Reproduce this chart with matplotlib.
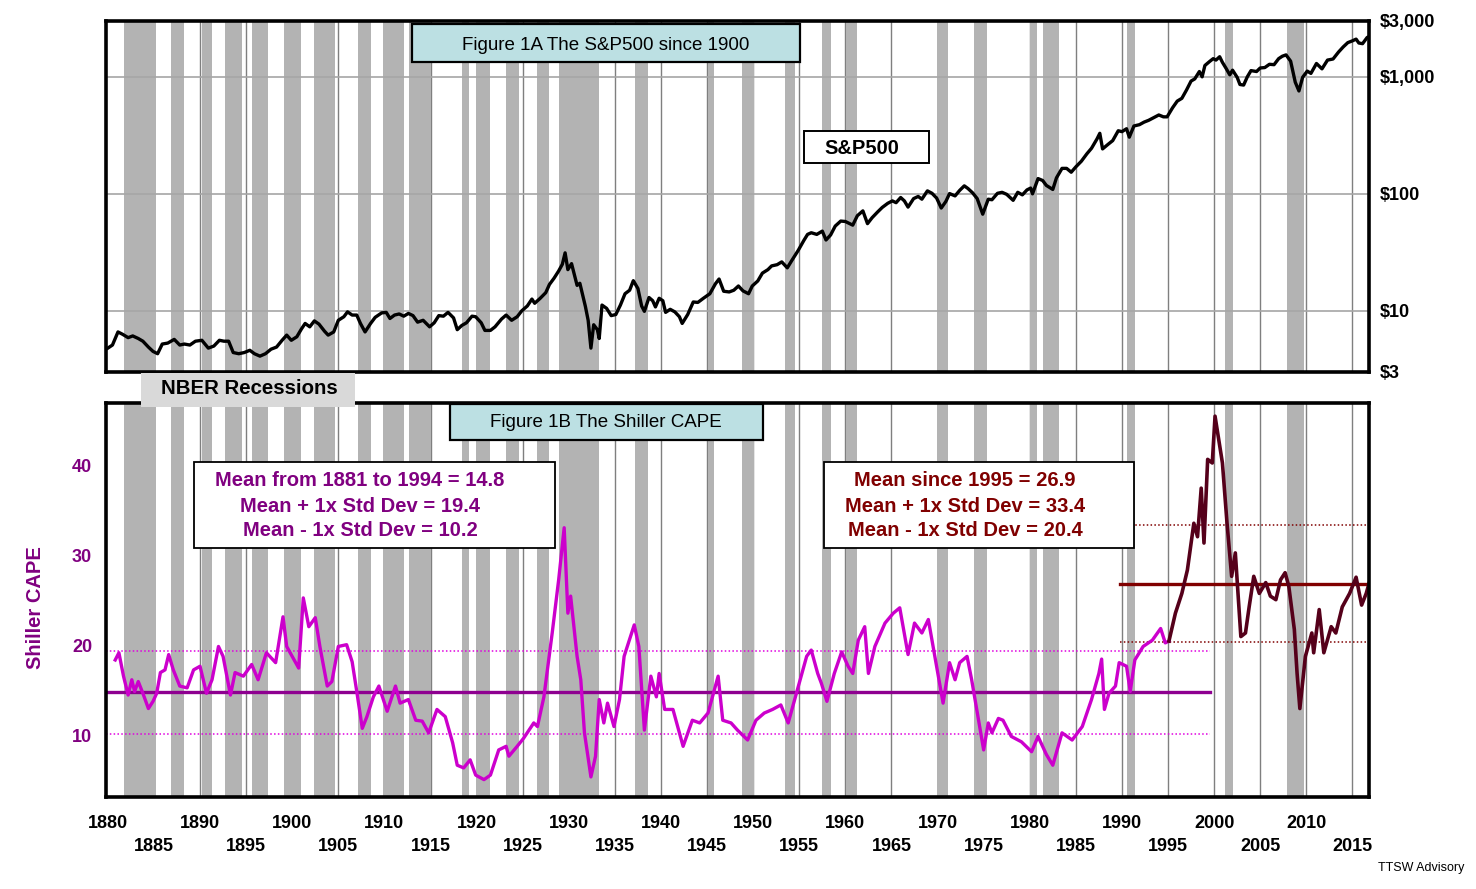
import matplotlib
matplotlib.use('Agg')
import matplotlib.pyplot as plt
from matplotlib.patches import Rectangle

plt.rcParams['font.family'] = ['Liberation Sans', 'DejaVu Sans']

# NBER recessions (start, end) in years
rec_start = [1881.8, 1886.9, 1890.2, 1892.7, 1895.6, 1899.1, 1902.4, 1907.1, 1909.8, 1912.7,
             1918.4, 1919.9, 1923.2, 1926.5, 1928.9, 1937.2, 1945.1, 1948.8, 1953.4, 1957.5,
             1960.1, 1969.9, 1973.9, 1980.0, 1981.4, 1990.5, 2001.2, 2007.9]
rec_end = [1885.2, 1888.3, 1891.3, 1894.5, 1897.4, 1900.9, 1904.6, 1908.5, 1912.1, 1915.0,
           1919.2, 1921.5, 1924.6, 1927.8, 1933.3, 1938.6, 1945.8, 1950.1, 1954.5, 1958.4,
           1961.3, 1971.1, 1975.4, 1980.8, 1983.2, 1991.4, 2002.1, 2009.75]

# S&P500 price
sp_years = [1880.0, 1880.5, 1881.1, 1881.6, 1882.2, 1882.7, 1883.3, 1883.8, 1884.4, 1884.9,
            1885.4, 1885.9, 1886.5, 1887.2, 1887.8, 1888.3, 1888.9, 1889.5, 1890.2, 1890.9,
            1891.5, 1892.1, 1892.6, 1893.1, 1893.6, 1894.2, 1894.8, 1895.4, 1895.9, 1896.5,
            1897.1, 1897.7, 1898.3, 1898.9, 1899.4, 1899.9, 1900.5, 1901.0, 1901.4, 1901.9,
            1902.4, 1902.9, 1903.5, 1903.9, 1904.5, 1905.0, 1905.6, 1906.0, 1906.5, 1907.0,
            1907.4, 1907.9, 1908.5, 1909.0, 1909.7, 1910.2, 1910.6, 1911.1, 1911.6, 1912.1,
            1912.6, 1913.1, 1913.6, 1914.2, 1914.9, 1915.4, 1915.9, 1916.4, 1916.9, 1917.5,
            1917.9, 1918.4, 1918.9, 1919.5, 1919.9, 1920.5, 1920.9, 1921.5, 1922.0, 1922.7,
            1923.2, 1923.8, 1924.4, 1924.9, 1925.5, 1926.0, 1926.3, 1926.9, 1927.5, 1927.9,
            1928.4, 1928.9, 1929.3, 1929.6, 1929.9, 1930.3, 1930.9, 1931.2, 1931.8, 1932.1,
            1932.4, 1932.7, 1933.1, 1933.3, 1933.6, 1934.1, 1934.6, 1935.1, 1935.6, 1936.1,
            1936.6, 1937.0, 1937.5, 1937.9, 1938.2, 1938.7, 1939.1, 1939.4, 1939.8, 1940.2,
            1940.5, 1941.0, 1941.5, 1942.0, 1942.3, 1942.9, 1943.5, 1944.0, 1944.6, 1945.3,
            1945.9, 1946.3, 1946.8, 1947.4, 1947.9, 1948.4, 1948.9, 1949.5, 1949.9, 1950.5,
            1951.0, 1951.6, 1952.0, 1952.6, 1953.1, 1953.7, 1954.2, 1954.9, 1955.5, 1955.9,
            1956.3, 1956.9, 1957.5, 1957.9, 1958.4, 1958.9, 1959.5, 1960.0, 1960.8, 1961.3,
            1961.9, 1962.4, 1962.9, 1963.5, 1964.0, 1964.6, 1965.1, 1965.5, 1966.0, 1966.4,
            1966.8, 1967.4, 1967.9, 1968.3, 1968.9, 1969.4, 1969.9, 1970.4, 1970.9, 1971.3,
            1971.9, 1972.4, 1972.9, 1973.3, 1973.8, 1974.3, 1974.9, 1975.5, 1975.9, 1976.5,
            1977.0, 1977.5, 1978.2, 1978.7, 1979.2, 1979.7, 1980.1, 1980.3, 1980.9, 1981.4,
            1981.8, 1982.5, 1982.9, 1983.5, 1984.0, 1984.5, 1985.0, 1985.6, 1986.2, 1986.7,
            1987.3, 1987.6, 1987.9, 1988.5, 1989.0, 1989.6, 1990.0, 1990.5, 1990.8, 1991.3,
            1991.9, 1992.4, 1992.9, 1993.5, 1994.0, 1994.5, 1994.9, 1995.5, 1996.0, 1996.5,
            1997.0, 1997.5, 1997.9, 1998.4, 1998.7, 1999.0, 1999.5, 1999.9, 2000.2, 2000.6,
            2000.9, 2001.3, 2001.7, 2002.0, 2002.5, 2002.8, 2003.2, 2003.6, 2004.0, 2004.6,
            2005.0, 2005.5, 2006.0, 2006.5, 2007.0, 2007.4, 2007.8, 2008.3, 2008.8, 2009.2,
            2009.6, 2010.1, 2010.5, 2011.1, 2011.7, 2012.3, 2012.9, 2013.5, 2014.0, 2014.5,
            2015.0, 2015.4, 2015.7, 2016.1, 2016.6, 2016.8]
sp_price = [4.8, 5.1, 6.6, 6.3, 5.9, 6.1, 5.8, 5.5, 4.9, 4.5,
            4.3, 5.2, 5.3, 5.7, 5.1, 5.2, 5.1, 5.5, 5.6, 4.8,
            5.0, 5.6, 5.5, 5.5, 4.4, 4.3, 4.4, 4.6, 4.3, 4.1,
            4.3, 4.7, 4.9, 5.6, 6.2, 5.6, 6.0, 7.0, 7.8, 7.3,
            8.2, 7.7, 6.7, 6.2, 6.6, 8.3, 8.9, 9.8, 9.2, 9.2,
            7.8, 6.6, 7.8, 8.8, 9.6, 9.7, 8.6, 9.2, 9.4, 9.0,
            9.5, 9.1, 8.0, 8.3, 7.3, 7.9, 9.1, 9.0, 9.7, 8.7,
            6.9, 7.5, 7.9, 9.0, 8.9, 7.9, 6.8, 6.8, 7.3, 8.5,
            9.2, 8.3, 8.9, 10.0, 11.0, 12.6, 11.6, 12.8, 14.3, 16.8,
            19.0, 21.9, 25.0, 31.3, 22.5, 25.3, 16.5, 17.2, 10.9, 8.3,
            4.8, 7.6, 6.9, 5.8, 11.2, 10.5, 9.1, 9.3, 11.2, 14.0,
            15.0, 18.1, 15.5, 11.0, 9.9, 13.0, 12.2, 10.8, 12.8, 12.2,
            9.7, 10.3, 9.8, 8.9, 7.8, 9.3, 11.9, 11.8, 12.8, 14.0,
            17.0, 18.7, 14.7, 14.5, 15.0, 16.3, 14.8, 14.0, 16.3, 18.0,
            21.0, 22.5, 24.2, 24.8, 26.2, 23.3, 27.0, 33.0, 40.0, 45.0,
            46.5, 45.0, 48.0, 40.3, 44.5, 53.0, 58.5, 58.0, 54.0, 65.0,
            71.5, 55.6, 62.5, 70.0, 76.5, 83.0, 87.0, 84.0, 93.0, 87.0,
            77.0, 91.0, 95.0, 90.0, 106.0, 101.0, 92.0, 75.6, 86.0, 100.5,
            96.0, 107.0, 117.0, 111.0, 102.0, 91.0, 67.0, 90.0, 89.0, 101.0,
            103.0, 99.0, 88.0, 103.0, 98.0, 108.0, 112.0, 100.0, 135.0, 130.0,
            118.0, 109.0, 137.0, 165.0, 165.0, 153.0, 170.0, 190.0, 220.0, 245.0,
            295.0, 329.0, 242.0, 265.0, 285.0, 346.0, 340.0, 360.0, 305.0, 380.0,
            390.0, 410.0, 425.0, 450.0, 472.0, 455.0, 455.0, 545.0, 620.0, 655.0,
            770.0, 920.0, 960.0, 1110.0, 1000.0, 1250.0, 1350.0, 1430.0, 1390.0, 1485.0,
            1330.0, 1180.0, 1040.0, 1140.0, 990.0, 860.0, 850.0, 1000.0, 1130.0, 1110.0,
            1190.0, 1200.0, 1280.0, 1270.0, 1430.0, 1500.0, 1540.0, 1360.0, 900.0, 757.0,
            990.0, 1120.0, 1070.0, 1300.0, 1170.0, 1390.0, 1420.0, 1630.0, 1800.0, 1960.0,
            2030.0, 2100.0, 1945.0, 1920.0, 2170.0, 2200.0]

# Shiller CAPE, 1881-1995
cape_early_years = [1880.8, 1881.2, 1881.7, 1882.2, 1882.6, 1882.9, 1883.3, 1883.8, 1884.4, 1884.9,
                    1885.3, 1885.7, 1886.2, 1886.6, 1887.1, 1887.8, 1888.6, 1889.3, 1890.0, 1890.7,
                    1891.3, 1892.0, 1892.5, 1893.3, 1893.8, 1894.7, 1895.6, 1896.3, 1897.2, 1898.2,
                    1899.0, 1899.4, 1900.0, 1900.7, 1901.2, 1901.8, 1902.5, 1903.0, 1903.8, 1904.3,
                    1905.0, 1905.9, 1906.5, 1907.0, 1907.6, 1908.1, 1908.8, 1909.4, 1910.3, 1911.2,
                    1911.7, 1912.6, 1913.4, 1914.1, 1914.8, 1915.7, 1916.6, 1917.4, 1917.9, 1918.6,
                    1919.3, 1919.9, 1920.8, 1921.5, 1922.4, 1923.2, 1923.5, 1924.4, 1925.1, 1926.2,
                    1926.6, 1927.3, 1928.2, 1928.9, 1929.5, 1929.9, 1930.2, 1930.9, 1931.3, 1931.7,
                    1932.4, 1932.9, 1933.3, 1933.8, 1934.2, 1934.9, 1935.5, 1936.0, 1937.1, 1937.6,
                    1938.0, 1938.2, 1938.9, 1939.5, 1939.8, 1940.4, 1941.3, 1942.4, 1943.4, 1944.2,
                    1945.1, 1946.2, 1946.7, 1947.6, 1948.3, 1949.4, 1950.3, 1951.2, 1952.1, 1953.0,
                    1953.8, 1954.5, 1955.2, 1955.8, 1956.3, 1957.0, 1957.4, 1958.0, 1958.8, 1959.6,
                    1960.3, 1960.8, 1961.4, 1962.1, 1962.5, 1963.2, 1964.3, 1965.2, 1965.9, 1966.8,
                    1967.5, 1968.3, 1969.0, 1969.7, 1970.6, 1971.3, 1971.9, 1972.4, 1973.2, 1973.7,
                    1974.2, 1975.0, 1975.5, 1975.9, 1976.6, 1977.1, 1978.0, 1979.1, 1980.2, 1980.9,
                    1981.8, 1982.5, 1983.5, 1984.6, 1985.7, 1986.7, 1987.5, 1987.8, 1988.1, 1988.6,
                    1989.3, 1989.7, 1990.5, 1990.9, 1991.4, 1992.3, 1993.3, 1994.2, 1994.7, 1995.1]
cape_early = [18.4, 19.2, 16.6, 14.5, 16.2, 14.9, 16.0, 14.7, 13.0, 13.8,
              14.7, 17.0, 17.3, 19.0, 17.3, 15.5, 15.3, 17.3, 17.7, 14.7,
              16.2, 19.9, 18.8, 14.5, 17.0, 16.6, 17.9, 16.2, 19.2, 18.1,
              23.2, 19.9, 18.8, 17.5, 25.3, 22.1, 23.1, 19.9, 15.5, 16.0,
              19.9, 20.1, 18.2, 14.9, 10.8, 12.1, 14.3, 15.5, 12.7, 15.5,
              13.6, 14.0, 11.7, 11.6, 10.3, 12.9, 12.1, 9.2, 6.7, 6.4,
              7.3, 5.6, 5.1, 5.6, 8.4, 8.8, 7.7, 8.8, 9.7, 11.4,
              11.0, 14.3, 21.4, 27.3, 33.1, 23.6, 25.5, 18.8, 16.2, 10.3,
              5.4, 7.7, 14.0, 11.4, 13.6, 11.0, 14.0, 18.8, 22.3, 19.9,
              13.6, 10.6, 16.6, 14.3, 16.9, 12.9, 12.9, 8.8, 11.7, 11.4,
              12.5, 16.6, 11.7, 11.4, 10.6, 9.5, 11.7, 12.5, 12.9, 13.4,
              11.4, 14.0, 16.6, 18.8, 19.5, 16.9, 15.8, 13.8, 16.9, 19.3,
              17.7, 16.9, 20.6, 22.1, 16.9, 19.9, 22.5, 23.6, 24.2, 19.0,
              22.5, 21.4, 22.9, 18.8, 13.6, 18.1, 16.2, 18.1, 18.8, 16.2,
              13.2, 8.4, 11.4, 10.3, 11.9, 11.7, 9.9, 9.3, 8.2, 9.9,
              7.9, 6.7, 10.3, 9.5, 11.0, 14.0, 16.9, 18.5, 12.9, 14.7,
              15.5, 18.1, 17.7, 14.9, 18.4, 19.9, 20.6, 21.9, 20.3, 20.5]

# Shiller CAPE, 1995 onward
cape_late_years = [1995.1, 1995.8, 1996.5, 1997.1, 1997.8, 1998.2, 1998.6, 1998.9, 1999.3, 1999.8,
                   2000.1, 2000.5, 2000.9, 2001.4, 2001.9, 2002.3, 2002.9, 2003.4, 2003.8, 2004.3,
                   2004.9, 2005.6, 2006.1, 2006.7, 2007.2, 2007.7, 2008.1, 2008.7, 2009.0, 2009.3,
                   2009.9, 2010.6, 2010.8, 2011.4, 2011.9, 2012.7, 2013.2, 2013.9, 2014.7, 2015.4,
                   2016.0, 2016.5, 2016.8]
cape_late = [20.5, 23.6, 25.8, 28.4, 33.6, 32.1, 37.5, 31.4, 40.7, 40.3,
             45.5, 42.9, 40.3, 33.6, 27.7, 30.3, 21.0, 21.4, 24.3, 27.7,
             25.8, 27.0, 25.5, 25.1, 27.3, 28.1, 26.6, 21.8, 16.9, 13.0,
             18.8, 21.4, 19.2, 24.0, 19.2, 22.1, 21.4, 24.3, 25.8, 27.6,
             24.5, 25.8, 26.9]

# summary statistics and the years each set of lines covers
mean_early, sd_hi_early, sd_lo_early = 14.8, 19.4, 10.2
mean_late, sd_hi_late, sd_lo_late = 26.9, 33.4, 20.4
span_early = (1879.8, 1999.5)
span_late = (1989.8, 2016.8)

x_ticks_top = list(range(1880, 2011, 10))
x_ticks_low = list(range(1885, 2016, 10))
grid_years = list(range(1885, 2016, 5))

W, H = 1476, 889
PURPLE = '#800080'
MAROON = '#800000'
BAR = '#B3B3B3'

fig = plt.figure(figsize=(W / 100, H / 100), dpi=100)


def fx(px):
    return px / W


def fy(py):
    return 1 - py / H


def box(x0, y0, x1, y1, fc, ec='black', lw=1.3):
    fig.add_artist(Rectangle((fx(x0), fy(y1)), fx(x1) - fx(x0), fy(y0) - fy(y1),
                             transform=fig.transFigure, facecolor=fc,
                             edgecolor=ec, linewidth=lw, zorder=5))


xlim = (1879.8, 2016.8)
ax1 = fig.add_axes([fx(106), fy(372), fx(1369) - fx(106), fy(21) - fy(372)])
ax2 = fig.add_axes([fx(106), fy(796.7), fx(1369) - fx(106), fy(402.7) - fy(796.7)])

for ax in (ax1, ax2):
    ax.set_xlim(*xlim)
    for g in grid_years:
        ax.axvline(g, color='#7F7F7F', lw=1.0, zorder=1)
    for s, e in zip(rec_start, rec_end):
        ax.axvspan(s, e, color=BAR, lw=0, zorder=1.5)
    for sp in ax.spines.values():
        sp.set_linewidth(2.6)
        sp.set_zorder(6)

# top panel
ax1.set_yscale('log')
ax1.set_ylim(3, 3000)
for lev in (10, 100, 1000):
    ax1.axhline(lev, color='#A6A6A6', lw=1.2, zorder=2)
ax1.plot(sp_years, sp_price, color='black', lw=2.4, zorder=3)
ax1.yaxis.tick_right()
ax1.set_yticks([3, 10, 100, 1000, 3000])
ax1.set_yticklabels(['$3', '$10', '$100', '$1,000', '$3,000'], fontsize=13, fontweight='bold')
ax1.minorticks_off()
ax1.set_xticks([])
ax1.tick_params(axis='y', length=0, pad=8)

# bottom panel
ax2.set_ylim(3.2, 47)
ax2.plot(span_early, [mean_early] * 2, color='#8E0090', lw=2.4, zorder=3)
ax2.plot(span_early, [sd_hi_early] * 2, color='#E000E0', lw=1.1, ls=(0, (1, 1.5)), zorder=3)
ax2.plot(span_early, [sd_lo_early] * 2, color='#E000E0', lw=1.1, ls=(0, (1, 1.5)), zorder=3)
ax2.plot(span_late, [mean_late] * 2, color=MAROON, lw=2.4, zorder=3)
ax2.plot(span_late, [sd_hi_late] * 2, color=MAROON, lw=1.1, ls=(0, (1, 1.5)), zorder=3)
ax2.plot(span_late, [sd_lo_late] * 2, color=MAROON, lw=1.1, ls=(0, (1, 1.5)), zorder=3)
ax2.plot(cape_early_years, cape_early, color='#CC00CC', lw=2.4, zorder=4)
ax2.plot(cape_late_years, cape_late, color='#55001A', lw=2.6, zorder=4)

ax2.set_yticks([10, 20, 30, 40])
ax2.set_yticklabels(['10', '20', '30', '40'], fontsize=13, fontweight='bold', color=PURPLE)
ax2.tick_params(axis='y', length=0, pad=10)
ax2.set_ylabel('Shiller CAPE', fontsize=14.5, fontweight='bold', color=PURPLE)
ax2.yaxis.set_label_coords((45 - 106) / (1369 - 106), (796.7 - 608) / (796.7 - 402.7))
ax2.set_xticks(x_ticks_top, [str(y) for y in x_ticks_top], fontsize=13, fontweight='bold')
ax2.set_xticks(x_ticks_low, [str(y) for y in x_ticks_low], minor=True, fontsize=13, fontweight='bold')
ax2.tick_params(axis='x', which='major', length=0, pad=13)
ax2.tick_params(axis='x', which='minor', length=0, pad=30)

# annotation boxes
box(412, 24, 800, 62, '#BCE0E3', lw=1.6)
fig.text(fx(606), fy(45), 'Figure 1A The S&P500 since 1900', fontsize=13.5, ha='center', va='center', zorder=7)
box(804, 131, 929, 163, 'white', lw=1.4)
fig.text(fx(862), fy(148), 'S&P500', fontsize=14.5, fontweight='bold', ha='center', va='center', zorder=7)
box(141, 373, 355, 407, '#D9D9D9', ec='none')
fig.text(fx(249), fy(389), 'NBER Recessions', fontsize=14.7, fontweight='bold', ha='center', va='center', zorder=7)
box(450, 404, 763, 440, '#BCE0E3', lw=1.6)
fig.text(fx(606), fy(423), 'Figure 1B The Shiller CAPE', fontsize=13.5, ha='center', va='center', zorder=7)

box(194, 462, 555, 548, 'white', lw=1.3)
early_lines = ['Mean from 1881 to 1994 = %.1f' % mean_early,
               'Mean + 1x Std Dev = %.1f' % sd_hi_early,
               'Mean - 1x Std Dev = %.1f' % sd_lo_early]
for i, t in enumerate(early_lines):
    fig.text(fx(360), fy(481 + 25 * i), t, fontsize=14.5, fontweight='bold', color=PURPLE,
             ha='center', va='center', zorder=7)

box(824, 462, 1134, 548, 'white', lw=1.3)
late_lines = ['Mean since 1995 = %.1f' % mean_late,
              'Mean + 1x Std Dev = %.1f' % sd_hi_late,
              'Mean - 1x Std Dev = %.1f' % sd_lo_late]
for i, t in enumerate(late_lines):
    fig.text(fx(965), fy(481 + 25 * i), t, fontsize=14.5, fontweight='bold', color=MAROON,
             ha='center', va='center', zorder=7)

fig.text(fx(1464), fy(868), 'TTSW Advisory', fontsize=9, ha='right', va='center')

fig.savefig('out.png', dpi=100)
